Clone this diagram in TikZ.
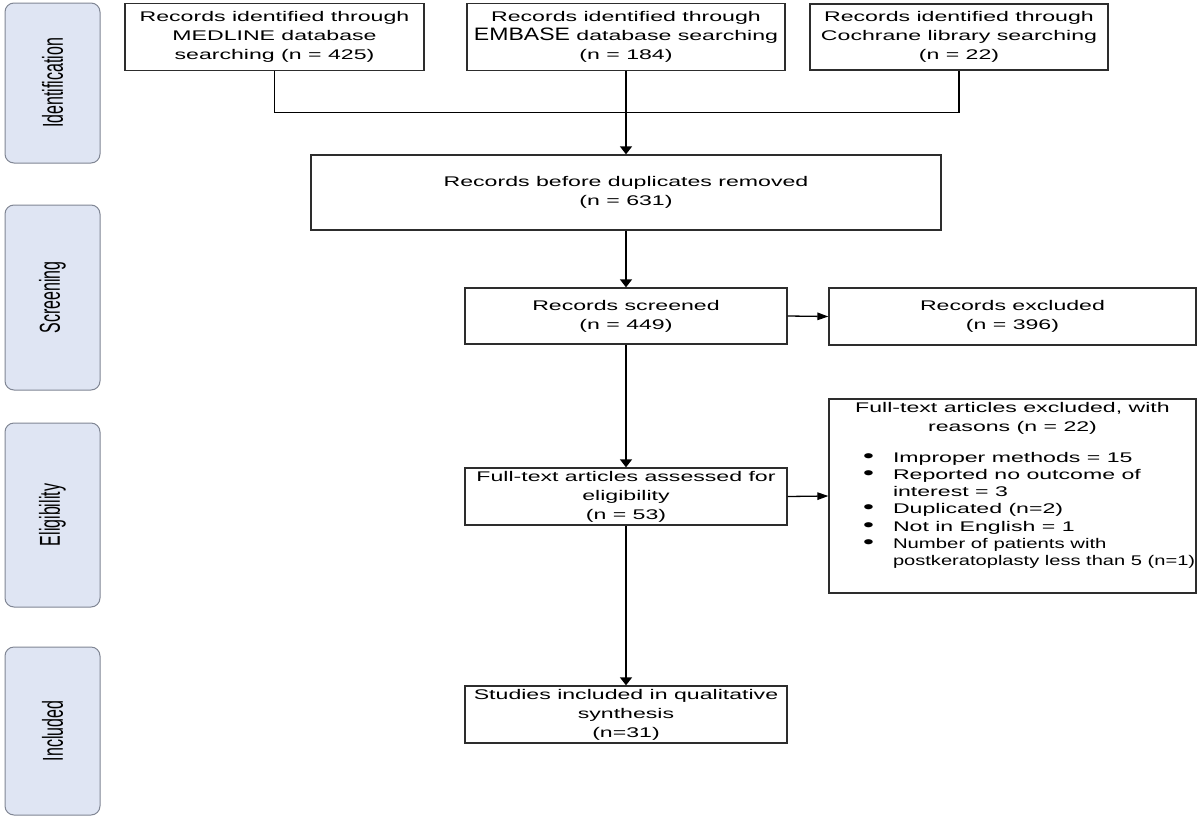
\documentclass[tikz,border=0pt]{standalone}
\usepackage{fontspec}
\setmainfont{Liberation Sans}[FakeStretch=1.65]
\newfontfamily\tabfont{Liberation Sans}
\usetikzlibrary{arrows.meta}
\definecolor{tabfill}{RGB}{223,229,243}
\definecolor{tabdraw}{RGB}{128,134,148}
\definecolor{boxdraw}{RGB}{45,45,45}
\newcommand{\tablabel}[1]{\rotatebox{90}{\scalebox{1}[1.8]{\tabfont\fontsize{16}{16}\selectfont #1}}}
\newcommand{\bul}{\hspace*{34pt}\makebox[30pt][l]{\scalebox{1.35}{\textbullet}}}
\begin{document}
\begin{tikzpicture}[x=1pt,y=-1pt,font=\fontsize{14}{19}\selectfont,
  box/.style={draw=boxdraw,line width=1.3pt,fill=white,inner sep=0pt,align=center,text=black},
  tab/.style={draw=tabdraw,fill=tabfill,rounded corners=9pt,line width=1pt,minimum width=95pt,inner sep=0pt},
  link/.style={draw=black,line width=1.3pt},
  varr/.style={link,-{Triangle[length=8pt,width=12pt]}},
  harr/.style={link,-{Triangle[length=11pt,width=7.5pt]}}]
\useasboundingbox (0,0) rectangle (1200,825);
% phase tabs
\node[tab,minimum height=160pt] (t1) at (52.5,83) {\tablabel{Identification}};
\node[tab,minimum height=185pt] (t2) at (52.5,297.5) {\tablabel{Screening}};
\node[tab,minimum height=184pt] (t3) at (52.5,515) {\tablabel{Eligibility}};
\node[tab,minimum height=168pt] (t4) at (52.5,731) {\tablabel{Included}};
% boxes
\node[box,minimum width=299pt,minimum height=67pt] (med) at (274.5,37)
  {Records identified through\\MEDLINE database\\searching (n = 425)};
\node[box,minimum width=318pt,minimum height=67pt] (emb) at (626,37)
  {Records identified through\\{\tabfont\fontsize{18}{19}\selectfont\scalebox{1.28}[1]{EMBASE}} database searching\\(n = 184)};
\node[box,minimum width=298pt,minimum height=66pt] (coch) at (959,37)
  {Records identified through\\Cochrane library searching\\(n = 22)};
\node[box,minimum width=630pt,minimum height=75pt] (before) at (626,192.5)
  {Records before duplicates removed\\(n = 631)};
\node[box,minimum width=322pt,minimum height=56pt] (scr) at (626,316)
  {Records screened\\(n = 449)};
\node[box,minimum width=367pt,minimum height=57pt] (ex1) at (1012.5,316.5)
  {Records excluded\\(n = 396)};
\node[box,minimum width=322pt,minimum height=57pt] (ass) at (626,496.5)
  {Full-text articles assessed for\\eligibility\\(n = 53)};
\node[box,minimum width=367pt,minimum height=194pt] (ex2) at (1012.5,496)
  {\begin{minipage}[c][194pt][t]{367pt}
   \vspace*{3pt}
   \centering Full-text articles excluded, with\\reasons (n = 22)\par
   \vspace{14pt}
   {\raggedright\fontsize{14}{17.2}\selectfont
   \bul Improper methods = 15\\
   \bul Reported no outcome of\\
   \hspace*{64pt}interest = 3\\
   \bul Duplicated (n=2)\\
   \bul Not in English = 1\\
   \bul \scalebox{0.88}[1]{Number of patients with}\\
   \hspace*{64pt}\scalebox{0.87}[1]{postkeratoplasty less than 5 (n=1)}\par}
   \end{minipage}};
\node[box,minimum width=322pt,minimum height=57pt] (inc) at (626,714.5)
  {Studies included in qualitative\\synthesis\\(n=31)};
% connectors
\draw[link] (med.south) -- ++(0,41.5) -| (coch.south);
\draw[varr] (emb.south) -- (before.north);
\draw[varr] (before.south) -- (scr.north);
\draw[harr] (scr.east) -- (ex1.west);
\draw[varr] (scr.south) -- (ass.north);
\draw[harr] (ass.east) -- (ex2.west);
\draw[varr] (ass.south) -- (inc.north);
\end{tikzpicture}
\end{document}
